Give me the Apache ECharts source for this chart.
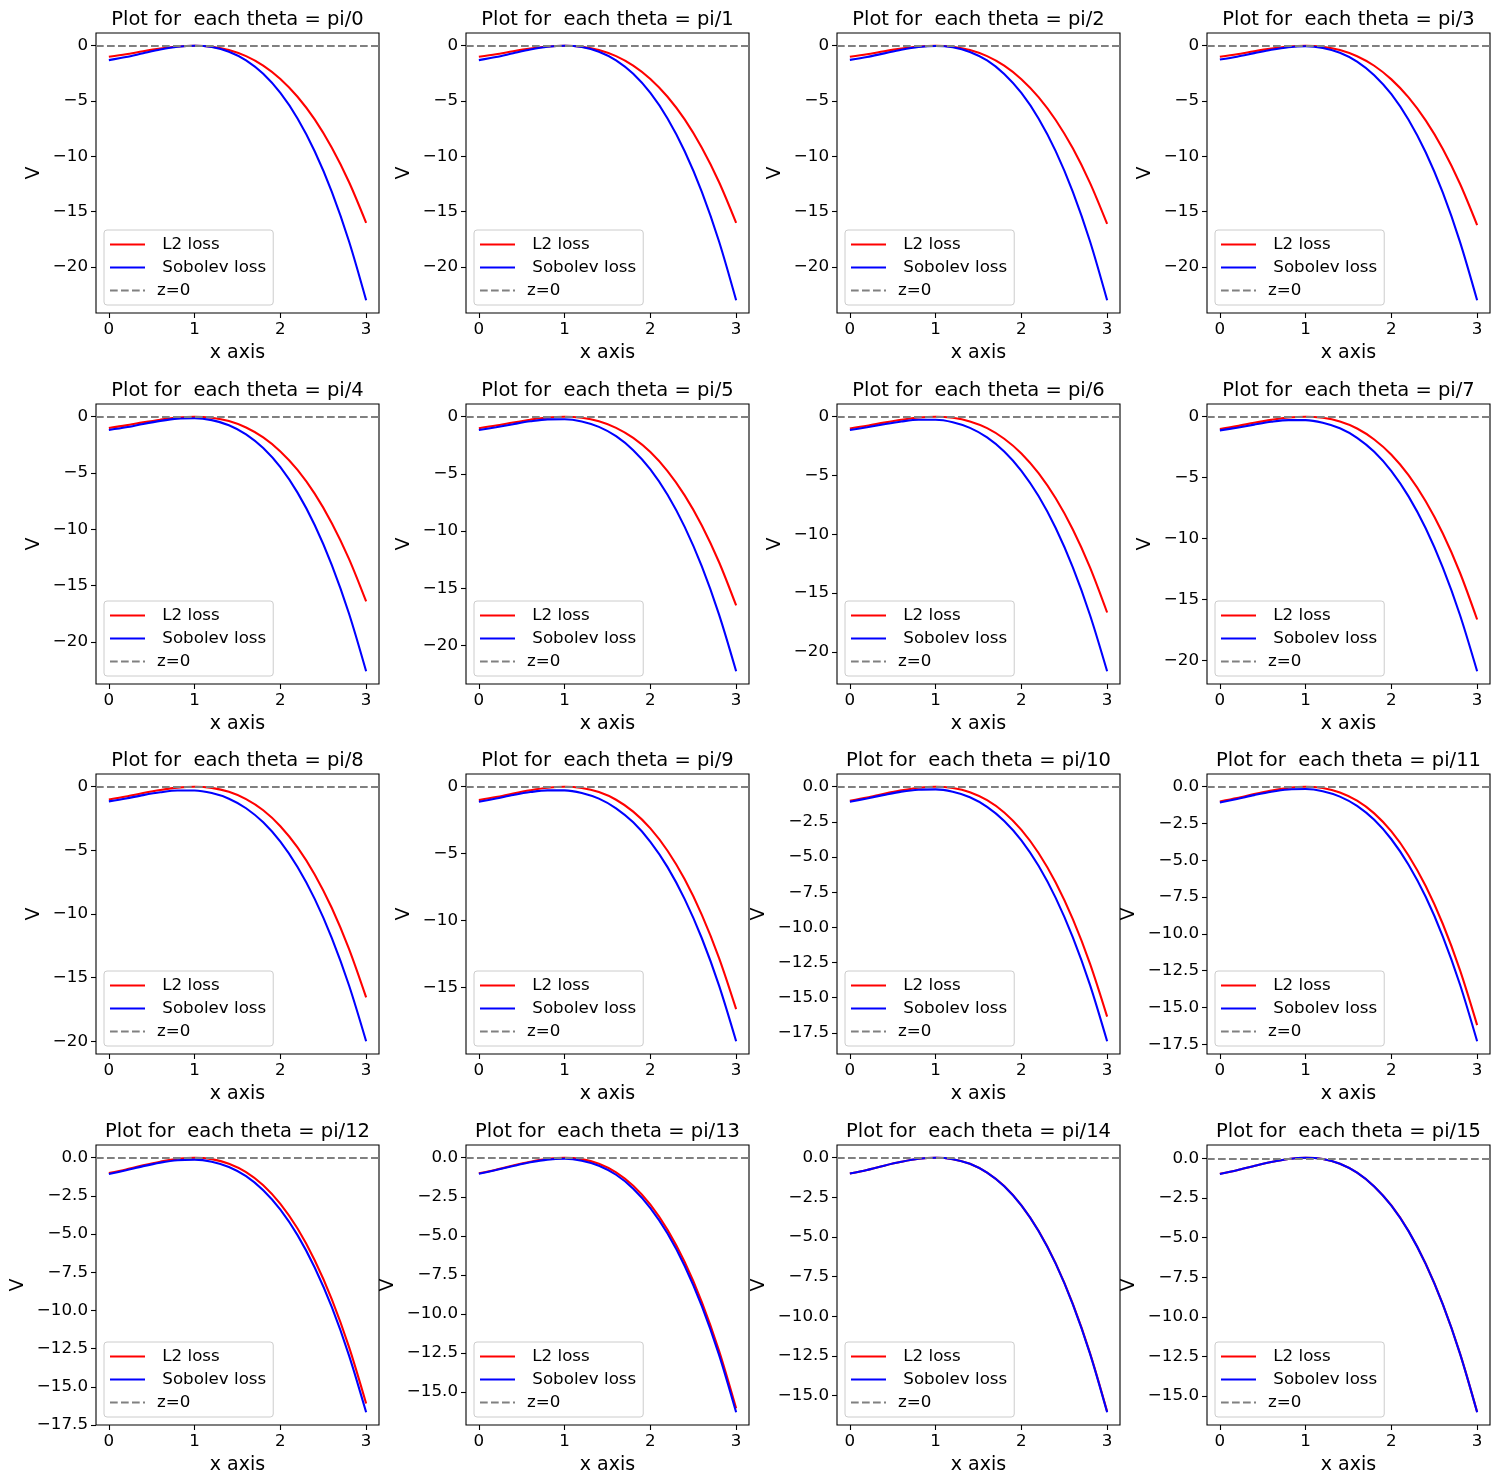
<!DOCTYPE html>
<html>
<head>
<meta charset="utf-8">
<script src="https://cdn.jsdelivr.net/npm/echarts@6/dist/echarts.min.js"></script>
<style>
html,body{margin:0;padding:0;background:#fff;}
#chart{width:1499px;height:1484px;}
</style>
</head>
<body>
<div id="chart"></div>
<script>
// ---- data ----
const thetaLabels = ['pi/0','pi/1','pi/2','pi/3','pi/4','pi/5','pi/6','pi/7','pi/8','pi/9','pi/10','pi/11','pi/12','pi/13','pi/14','pi/15'];
const xValues = [0,0.2,0.4,0.6,0.8,1.0,1.2,1.4,1.6,1.8,2.0,2.2,2.4,2.6,2.8,3.0];

const l2_pi0  = [-1.0,-0.77,-0.50,-0.26,-0.07,0,-0.09,-0.38,-0.94,-1.79,-3.00,-4.61,-6.66,-9.22,-12.31,-16.0];
const sob_pi0 = [-1.30,-1.02,-0.68,-0.35,-0.10,0,-0.12,-0.54,-1.32,-2.54,-4.27,-6.57,-9.53,-13.20,-17.67,-23.0];
const l2_pi1  = [-1.0,-0.77,-0.50,-0.26,-0.07,0,-0.09,-0.38,-0.94,-1.79,-3.00,-4.61,-6.66,-9.22,-12.31,-16.0];
const sob_pi1 = [-1.30,-1.02,-0.68,-0.35,-0.10,0,-0.12,-0.54,-1.32,-2.54,-4.27,-6.57,-9.53,-13.20,-17.67,-23.0];
const l2_pi2  = [-1.0,-0.77,-0.50,-0.26,-0.07,0,-0.09,-0.39,-0.94,-1.80,-3.02,-4.64,-6.71,-9.27,-12.39,-16.1];
const sob_pi2 = [-1.28,-1.02,-0.69,-0.365,-0.12,-0.02,-0.14,-0.56,-1.33,-2.55,-4.27,-6.57,-9.52,-13.20,-17.67,-23.0];
const l2_pi3  = [-1.0,-0.77,-0.50,-0.26,-0.07,0,-0.09,-0.39,-0.95,-1.81,-3.04,-4.67,-6.75,-9.33,-12.47,-16.2];
const sob_pi3 = [-1.25,-0.99,-0.67,-0.36,-0.13,-0.05,-0.20,-0.63,-1.43,-2.66,-4.38,-6.69,-9.63,-13.28,-17.72,-23.0];
const l2_pi4  = [-1.0,-0.77,-0.50,-0.26,-0.07,0,-0.09,-0.39,-0.96,-1.84,-3.08,-4.72,-6.83,-9.45,-12.62,-16.4];
const sob_pi4 = [-1.18,-0.94,-0.64,-0.37,-0.17,-0.13,-0.30,-0.75,-1.56,-2.78,-4.48,-6.74,-9.61,-13.17,-17.47,-22.6];
const l2_pi5  = [-1.0,-0.77,-0.50,-0.26,-0.07,0,-0.09,-0.40,-0.97,-1.85,-3.09,-4.75,-6.87,-9.50,-12.70,-16.5];
const sob_pi5 = [-1.16,-0.92,-0.65,-0.40,-0.23,-0.22,-0.41,-0.89,-1.70,-2.92,-4.60,-6.82,-9.63,-13.09,-17.28,-22.25];
const l2_pi6  = [-1.0,-0.77,-0.50,-0.26,-0.07,0,-0.09,-0.40,-0.97,-1.87,-3.12,-4.80,-6.94,-9.59,-12.81,-16.65];
const sob_pi6 = [-1.13,-0.90,-0.64,-0.41,-0.26,-0.26,-0.47,-0.95,-1.76,-2.96,-4.60,-6.75,-9.47,-12.82,-16.86,-21.65];
const l2_pi7  = [-1.0,-0.77,-0.50,-0.26,-0.07,0,-0.09,-0.40,-0.97,-1.87,-3.12,-4.80,-6.94,-9.59,-12.81,-16.65];
const sob_pi7 = [-1.12,-0.90,-0.65,-0.42,-0.28,-0.28,-0.49,-0.95,-1.73,-2.88,-4.46,-6.54,-9.16,-12.39,-16.28,-20.9];
const l2_pi8  = [-1.0,-0.77,-0.50,-0.26,-0.07,0,-0.09,-0.40,-0.97,-1.85,-3.10,-4.77,-6.89,-9.53,-12.74,-16.55];
const sob_pi8 = [-1.15,-0.92,-0.66,-0.44,-0.30,-0.30,-0.50,-0.94,-1.69,-2.80,-4.32,-6.31,-8.81,-11.89,-15.60,-20.0];
const l2_pi9  = [-1.0,-0.77,-0.50,-0.26,-0.07,0,-0.09,-0.40,-0.97,-1.86,-3.11,-4.78,-6.91,-9.56,-12.77,-16.6];
const sob_pi9 = [-1.12,-0.88,-0.62,-0.40,-0.27,-0.27,-0.46,-0.89,-1.61,-2.66,-4.11,-6.00,-8.39,-11.31,-14.83,-19.0];
const l2_pi10 = [-1.0,-0.77,-0.50,-0.26,-0.07,0,-0.09,-0.39,-0.96,-1.83,-3.07,-4.71,-6.81,-9.42,-12.58,-16.35];
const sob_pi10= [-1.07,-0.83,-0.58,-0.35,-0.21,-0.19,-0.36,-0.75,-1.43,-2.43,-3.81,-5.62,-7.90,-10.71,-14.09,-18.1];
const l2_pi11 = [-1.0,-0.77,-0.50,-0.26,-0.07,0,-0.09,-0.39,-0.95,-1.81,-3.04,-4.67,-6.75,-9.33,-12.47,-16.2];
const sob_pi11= [-1.07,-0.83,-0.57,-0.34,-0.19,-0.16,-0.30,-0.67,-1.30,-2.25,-3.57,-5.30,-7.48,-10.18,-13.44,-17.3];
const l2_pi12 = [-1.0,-0.77,-0.50,-0.26,-0.07,0,-0.09,-0.39,-0.94,-1.80,-3.02,-4.64,-6.71,-9.27,-12.39,-16.1];
const sob_pi12= [-1.07,-0.82,-0.55,-0.32,-0.16,-0.125,-0.26,-0.61,-1.21,-2.13,-3.40,-5.07,-7.19,-9.79,-12.94,-16.67];
const l2_pi13 = [-1.0,-0.77,-0.50,-0.26,-0.07,0,-0.09,-0.39,-0.94,-1.80,-3.01,-4.62,-6.68,-9.24,-12.35,-16.05];
const sob_pi13= [-1.03,-0.79,-0.53,-0.29,-0.12,-0.07,-0.19,-0.51,-1.09,-1.98,-3.22,-4.85,-6.93,-9.50,-12.61,-16.3];
const l2_pi14 = [-1.0,-0.77,-0.50,-0.26,-0.07,0,-0.09,-0.38,-0.94,-1.79,-3.00,-4.61,-6.66,-9.22,-12.31,-16.0];
const sob_pi14= [-1.0,-0.77,-0.50,-0.26,-0.07,0,-0.09,-0.385,-0.94,-1.80,-3.01,-4.62,-6.68,-9.24,-12.35,-16.05];
const l2_pi15 = [-0.97,-0.75,-0.48,-0.23,-0.04,0.04,-0.04,-0.34,-0.90,-1.77,-2.97,-4.58,-6.65,-9.21,-12.30,-16.0];
const sob_pi15= [-0.98,-0.75,-0.48,-0.23,-0.04,0.04,-0.04,-0.34,-0.90,-1.77,-2.98,-4.59,-6.66,-9.22,-12.32,-16.02];

const zeroLevel = [0];
const xTicks = [0,1,2,3];
const yTicks5_20 = [0,-5,-10,-15,-20];
const yTicks5_15 = [0,-5,-10,-15];
const yTicks25_175 = [0,-2.5,-5,-7.5,-10,-12.5,-15,-17.5];
const yTicks25_15 = [0,-2.5,-5,-7.5,-10,-12.5,-15];

const seriesNames = [' L2 loss', ' Sobolev loss', 'z=0'];

const panels = [
  {l2:l2_pi0, sob:sob_pi0, ticks:yTicks5_20, dec:0},
  {l2:l2_pi1, sob:sob_pi1, ticks:yTicks5_20, dec:0},
  {l2:l2_pi2, sob:sob_pi2, ticks:yTicks5_20, dec:0},
  {l2:l2_pi3, sob:sob_pi3, ticks:yTicks5_20, dec:0},
  {l2:l2_pi4, sob:sob_pi4, ticks:yTicks5_20, dec:0},
  {l2:l2_pi5, sob:sob_pi5, ticks:yTicks5_20, dec:0},
  {l2:l2_pi6, sob:sob_pi6, ticks:yTicks5_20, dec:0},
  {l2:l2_pi7, sob:sob_pi7, ticks:yTicks5_20, dec:0},
  {l2:l2_pi8, sob:sob_pi8, ticks:yTicks5_20, dec:0},
  {l2:l2_pi9, sob:sob_pi9, ticks:yTicks5_15, dec:0},
  {l2:l2_pi10, sob:sob_pi10, ticks:yTicks25_175, dec:1},
  {l2:l2_pi11, sob:sob_pi11, ticks:yTicks25_175, dec:1},
  {l2:l2_pi12, sob:sob_pi12, ticks:yTicks25_175, dec:1},
  {l2:l2_pi13, sob:sob_pi13, ticks:yTicks25_15, dec:1},
  {l2:l2_pi14, sob:sob_pi14, ticks:yTicks25_15, dec:1},
  {l2:l2_pi15, sob:sob_pi15, ticks:yTicks25_15, dec:1}
];

// ---- layout ----
const FONT = 'DejaVu Sans';
const colLeft = [96, 466, 837, 1207];
const rowTop = [33, 404, 774, 1145];
const GW = 283, GH = 280;
const LW = 2.08;
const DASH = [7.7, 3.3];

// legend icons: solid line and dashed line (35 x 2)
const solidIcon = 'path://M0,0h35v2h-35z';
const dashIcon = 'path://M0,0h7.7v2h-7.7z M11,0h7.7v2h-7.7z M22,0h7.7v2h-7.7z M33,0h2v2h-2z';

const grid = [], xAxis = [], yAxis = [], series = [], title = [], legend = [];

panels.forEach((p, i) => {
  const r = Math.floor(i / 4), c = i % 4;
  const L = colLeft[c], T = rowTop[r];
  grid.push({left: L, top: T, width: GW, height: GH, show: true, borderColor: '#000', borderWidth: 1.1, backgroundColor: 'transparent', containLabel: false});
  xAxis.push({
    type: 'value', gridIndex: i, min: -0.15, max: 3.15, position: 'bottom',
    name: 'x axis', nameLocation: 'middle', nameGap: 31,
    nameTextStyle: {fontFamily: FONT, fontSize: 19, color: '#000'},
    splitLine: {show: false}, axisLine: {show: false, onZero: false},
    axisTick: {show: true, inside: false, length: 5, customValues: xTicks, lineStyle: {color: '#000', width: 1.1}},
    axisLabel: {customValues: xTicks, fontFamily: FONT, fontSize: 16.7, color: '#000', margin: 8,
      formatter: v => String(v)}
  });
  yAxis.push({
    type: 'value', gridIndex: i, position: 'left',
    min: v => v.min - (v.max - v.min) * 0.05,
    max: v => v.max + (v.max - v.min) * 0.05,
    name: 'V', nameLocation: 'middle', nameRotate: 90, nameGap: p.dec ? 68 : 52,
    nameTextStyle: {fontFamily: FONT, fontSize: 19, color: '#000'},
    splitLine: {show: false}, axisLine: {show: false, onZero: false},
    axisTick: {show: true, inside: false, length: 5, customValues: p.ticks, lineStyle: {color: '#000', width: 1.1}},
    axisLabel: {customValues: p.ticks, fontFamily: FONT, fontSize: 16.7, color: '#000', margin: 8,
      formatter: v => (p.dec ? Number(v).toFixed(1) : String(Math.round(v))).replace('-', '\u2212')}
  });
  title.push({
    text: 'Plot for  each theta = ' + thetaLabels[i],
    left: L + GW / 2, top: T - 23, textAlign: 'center', padding: 0,
    textStyle: {fontFamily: FONT, fontSize: 19.5, fontWeight: 'normal', color: '#000'}
  });
  legend.push({
    data: [
      {name: seriesNames[0], icon: solidIcon},
      {name: seriesNames[1], icon: solidIcon},
      {name: seriesNames[2], icon: dashIcon}
    ],
    orient: 'vertical', left: L + 8, top: T + GH - 83,
    itemWidth: 35, itemHeight: 2, itemGap: 4, padding: [5, 7, 5, 6],
    backgroundColor: 'rgba(255,255,255,0.8)', borderColor: '#cccccc', borderWidth: 1, borderRadius: 3,
    selectedMode: false,
    textStyle: {fontFamily: FONT, fontSize: 16.7, lineHeight: 19, color: '#000', padding: [0, 0, 0, 7]}
  });
  series.push({
    type: 'line', name: seriesNames[0], xAxisIndex: i, yAxisIndex: i,
    data: xValues.map((x, j) => [x, p.l2[j]]),
    symbol: 'none', smooth: 0.3, z: 3,
    lineStyle: {color: '#ff0000', width: LW}, itemStyle: {color: '#ff0000'}
  });
  series.push({
    type: 'line', name: seriesNames[1], xAxisIndex: i, yAxisIndex: i,
    data: xValues.map((x, j) => [x, p.sob[j]]),
    symbol: 'none', smooth: 0.3, z: 4,
    lineStyle: {color: '#0000ff', width: LW}, itemStyle: {color: '#0000ff'}
  });
  series.push({
    type: 'line', name: seriesNames[2], xAxisIndex: i, yAxisIndex: i,
    data: [],
    symbol: 'none', z: 2,
    lineStyle: {color: '#808080', width: LW, type: DASH}, itemStyle: {color: '#808080'},
    markLine: {
      silent: true, symbol: ['none', 'none'], label: {show: false}, animation: false,
      lineStyle: {color: '#808080', width: LW, type: DASH},
      data: zeroLevel.map(v => ({yAxis: v}))
    }
  });
});

const chart = echarts.init(document.getElementById('chart'), null, {renderer: 'canvas'});
chart.setOption({
  animation: false,
  backgroundColor: '#ffffff',
  textStyle: {fontFamily: FONT},
  title, legend, grid, xAxis, yAxis, series
});
</script>
</body>
</html>
